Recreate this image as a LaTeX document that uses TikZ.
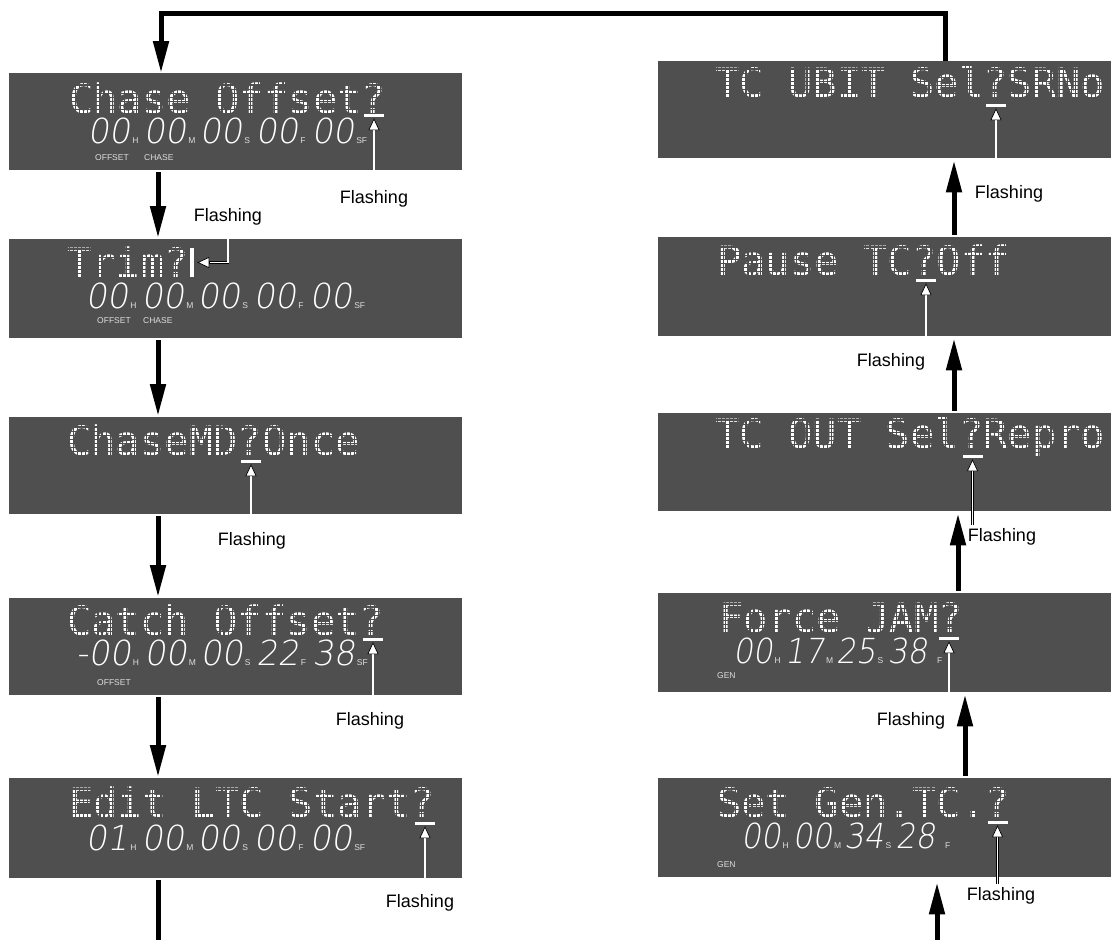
\documentclass[tikz,border=0pt]{standalone}
\usepackage{fontspec}
\setmainfont{Liberation Sans}
\newfontfamily\lcdfont{DejaVu Sans Mono}
% thin slanted figures for the seven-segment readouts
\IfFontExistsTF{DejaVu Sans ExtraLight}
  {\newfontfamily\segfont[FakeSlant=0.16,FakeStretch=0.97]{DejaVu Sans ExtraLight}%
   \newfontfamily\segfontnarrow[FakeSlant=0.16,FakeStretch=0.9]{DejaVu Sans ExtraLight}%
   \newcommand\segsize{34.5}}
  {\newfontfamily\segfont[FakeSlant=0.18]{Liberation Sans}%
   \newfontfamily\segfontnarrow[FakeSlant=0.18]{Liberation Sans}%
   \newcommand\segsize{36}}
\usetikzlibrary{arrows.meta,calc}

\definecolor{lcdbg}{RGB}{79,79,79}
\definecolor{lcdtag}{RGB}{222,222,222}

% one time-code field: slanted digits followed by a tiny unit letter
\newlength\tcpitch
\newcommand\tcface{\segfont}
\newcommand\tcpair[2]{\makebox[\tcpitch][l]{{\fontsize{\segsize}{\segsize}\tcface #1}\hspace{2pt}{\fontsize{8.5}{8.5}\selectfont\color{lcdtag}#2}}}

% split a dot-matrix line into its 4 px cells (x of the line start, baseline, characters)
\newcommand\dotgrid[3]{%
  \pgfmathtruncatemacro\ncols{6*#3}%
  \begin{scope}
    \clip (#1,#2-34) rectangle (#1+#3*24.4+2,#2+10);
    \foreach \k in {0,...,\ncols}{\draw[gridline] (#1+2.5+\k*4.067,#2-34) -- ++(0,44);}
    \foreach \m in {-9,...,2}{\draw[gridline] (#1,#2+0.5+\m*4.07) -- ++(#3*24.4+2,0);}
  \end{scope}}

\begin{document}
\begin{tikzpicture}[x=1pt,y=-1pt,
  panel/.style={fill=lcdbg,draw=none,inner sep=0pt,minimum width=453pt,anchor=north west},
  lcd/.style={text=white,inner sep=0pt,anchor=base west,font={\fontsize{40.5}{40.5}\lcdfont}},
  gridline/.style={draw=lcdbg,line width=1.1pt},
  digits/.style={text=white,inner sep=0pt,anchor=base west},
  tag/.style={text=lcdtag,inner sep=0pt,anchor=base west,font={\fontsize{8.5}{8.5}\selectfont}},
  cursorbar/.style={fill=white,draw=none,inner sep=0pt,minimum width=20pt,minimum height=3pt},
  flashlabel/.style={text=black,inner sep=3pt,anchor=base,font={\fontsize{18}{18}\selectfont}},
  ptr/.style={draw=black,line width=0.7pt,double=white,double distance=1.5pt},
  ptrtip/.style={draw=black,line width=0.7pt,-{Triangle[length=12pt,width=11pt,fill=white]}},
  flow/.style={draw=black,line width=5pt,-{Triangle[length=32pt,width=15pt]}},
  flowline/.style={draw=black,line width=5pt}]

\useasboundingbox (0,0) rectangle (1111,940);

% ---------------- display panels ----------------
\node[panel,minimum height=97pt]  (l1) at (9,73)  {};
\node[panel,minimum height=99pt]  (l2) at (9,239) {};
\node[panel,minimum height=97pt]  (l3) at (9,417) {};
\node[panel,minimum height=97pt]  (l4) at (9,598) {};
\node[panel,minimum height=100pt] (l5) at (9,778) {};
\node[panel,minimum height=97pt]  (r1) at (658,61)  {};
\node[panel,minimum height=99pt]  (r2) at (658,237) {};
\node[panel,minimum height=98pt]  (r3) at (658,413) {};
\node[panel,minimum height=99pt]  (r4) at (658,593) {};
\node[panel,minimum height=99pt]  (r5) at (658,778) {};

% ---------------- dot-matrix lines ----------------
\node[lcd] (l1t) at (69,113) {Chase Offset?};
\node[lcd] (l2t) at (67,277) {Trim?};
\node[lcd] (l3t) at (67,455) {ChaseMD?Once};
\node[lcd] (l4t) at (67,635) {Catch Offset?};
\node[lcd] (l5t) at (69,817) {Edit LTC Start?};
\node[lcd] (r1t) at (715,97)  {TC UBIT Sel?SRNo};
\node[lcd] (r2t) at (717,275) {Pause TC?Off};
\node[lcd] (r3t) at (715,448) {TC OUT Sel?Repro};
\node[lcd] (r4t) at (719,632) {Force JAM?};
\node[lcd] (r5t) at (717,817) {Set Gen.TC.?};

\dotgrid{69}{113}{13}
\dotgrid{67}{277}{5}
\dotgrid{67}{455}{12}
\dotgrid{67}{635}{13}
\dotgrid{69}{817}{15}
\dotgrid{715}{97}{16}
\dotgrid{717}{275}{12}
\dotgrid{715}{448}{16}
\dotgrid{719}{632}{10}
\dotgrid{717}{817}{12}

% ---------------- time-code readouts ----------------
\node[digits] (l1d) at (87.5,143) {\setlength\tcpitch{56pt}\tcpair{00}{H}\tcpair{00}{M}\tcpair{00}{S}\tcpair{00}{F}\tcpair{00}{SF}};
\node[digits] (l2d) at (85.5,308) {\setlength\tcpitch{56pt}\tcpair{00}{H}\tcpair{00}{M}\tcpair{00}{S}\tcpair{00}{F}\tcpair{00}{SF}};
\node[digits] (l4d) at (76,665) {\setlength\tcpitch{56pt}{\fontsize{\segsize}{\segsize}\segfont -}\tcpair{00}{H}\tcpair{00}{M}\tcpair{00}{S}\tcpair{22}{F}\tcpair{38}{SF}};
\node[digits] (l5d) at (85.5,850) {\setlength\tcpitch{56pt}\tcpair{01}{H}\tcpair{00}{M}\tcpair{00}{S}\tcpair{00}{F}\tcpair{00}{SF}};
\node[digits] (r4d) at (733,663) {\setlength\tcpitch{51.5pt}\renewcommand\tcface{\segfontnarrow}\tcpair{00}{H}\tcpair{17}{M}\tcpair{25}{S}\tcpair{38}{\hspace{8pt}F}};
\node[digits] (r5d) at (741,848) {\setlength\tcpitch{51.5pt}\renewcommand\tcface{\segfontnarrow}\tcpair{00}{H}\tcpair{00}{M}\tcpair{34}{S}\tcpair{28}{\hspace{8pt}F}};

% ---------------- mode indicators ----------------
\node[tag] (l1o) at (95,160) {OFFSET};
\node[tag] (l1c) at (144,160) {CHASE};
\node[tag] (l2o) at (97,323) {OFFSET};
\node[tag] (l2c) at (143,323) {CHASE};
\node[tag] (l4o) at (97,685) {OFFSET};
\node[tag] (r4g) at (717,678) {GEN};
\node[tag] (r5g) at (717,867) {GEN};

% ---------------- cursors ----------------
\node[cursorbar] (l1b) at (374,115.5) {};
\node[fill=white,inner sep=0pt,minimum width=4pt,minimum height=29pt] (l2b) at (192,262.5) {};
\node[cursorbar] (l3b) at (251,461.5) {};
\node[cursorbar] (l4b) at (373,639.5) {};
\node[cursorbar] (l5b) at (425,823.5) {};
\node[cursorbar] (r1b) at (996,105.5) {};
\node[cursorbar] (r2b) at (926,280.5) {};
\node[cursorbar] (r3b) at (972.5,456.5) {};
\node[cursorbar] (r4b) at (949,638.5) {};
\node[cursorbar] (r5b) at (997.5,822.5) {};

% ---------------- "Flashing" callouts ----------------
\node[flashlabel] (l1f) at (374,203) {Flashing};
\node[flashlabel] (l2f) at (228,221) {Flashing};
\node[flashlabel] (l3f) at (252,545) {Flashing};
\node[flashlabel] (l4f) at (370,725) {Flashing};
\node[flashlabel] (l5f) at (420,907) {Flashing};
\node[flashlabel] (r1f) at (1009,198) {Flashing};
\node[flashlabel] (r2f) at (891,366) {Flashing};
\node[flashlabel] (r3f) at (1002,541) {Flashing};
\node[flashlabel] (r4f) at (911,725) {Flashing};
\node[flashlabel] (r5f) at (1001,900) {Flashing};

\foreach \p in {l1,l3,l4,l5,r1,r2,r3,r4,r5}{
  \draw[ptr] (\p f.north -| \p b.south) -- ($(\p b.south)+(0,12)$);
  \draw[ptrtip] ($(\p b.south)+(0,12)$) -- ($(\p b.south)+(0,1)$);
}
\draw[ptr] (l2f.south) |- ($(l2b.east)+(15,0)$);
\draw[ptrtip] ($(l2b.east)+(15,0)$) -- ($(l2b.east)+(3,0)$);

% ---------------- flow between menu pages ----------------
\coordinate (lx) at (158,0);
\coordinate (lout) at (158,940);
\coordinate (rin) at (937,940);
\coordinate (rx5) at (965,0);
\coordinate (rx4) at (958,0);
\coordinate (rx3) at (954,0);
\coordinate (rx2) at (954,0);
\coordinate (loopR) at (945,13);
\coordinate (loopL) at (161,13);

\draw[flow,shorten <=2pt,shorten >=1pt] (l1.south -| lx) -- (l2.north -| lx);
\draw[flow,shorten <=2pt,shorten >=1pt] (l2.south -| lx) -- (l3.north -| lx);
\draw[flow,shorten <=2pt,shorten >=1pt] (l3.south -| lx) -- (l4.north -| lx);
\draw[flow,shorten <=2pt,shorten >=1pt] (l4.south -| lx) -- (l5.north -| lx);
\draw[flowline,shorten <=2pt] (l5.south -| lx) -- (lout);

\draw[flow,shorten >=5pt] (rin) -- (r5.south -| rin);
\draw[flow,shorten <=2pt,shorten >=2pt] (r5.north -| rx5) -- (r4.south -| rx5);
\draw[flow,shorten <=2pt,shorten >=2pt] (r4.north -| rx4) -- (r3.south -| rx4);
\draw[flow,shorten <=2pt,shorten >=2pt] (r3.north -| rx3) -- (r2.south -| rx3);
\draw[flow,shorten <=2pt,shorten >=2pt] (r2.north -| rx2) -- (r1.south -| rx2);

\draw[flow] (r1.north -| loopR) -- (loopR) -- (loopL) -- (l1.north -| loopL);

\end{tikzpicture}
\end{document}
